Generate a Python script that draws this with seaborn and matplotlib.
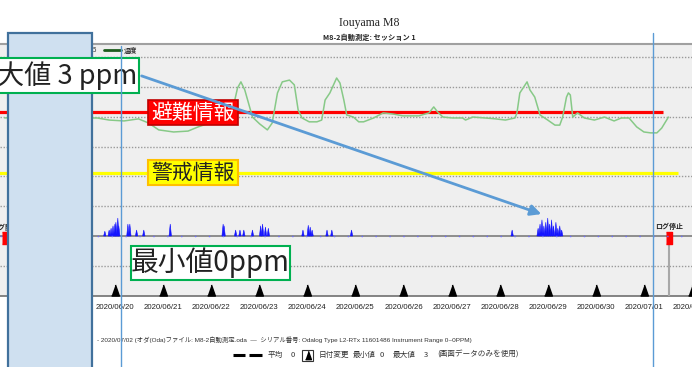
import matplotlib
matplotlib.use('Agg')
import matplotlib.pyplot as plt
import seaborn as sns
from matplotlib.patches import Rectangle, FancyArrowPatch

# ---- data ----
# days counted from 2020/06/20 00:00
date_labels = ['2020/06/20', '2020/06/21', '2020/06/22', '2020/06/23', '2020/06/24',
               '2020/06/25', '2020/06/26', '2020/06/27', '2020/06/28', '2020/06/29',
               '2020/06/30', '2020/07/01', '2020/07/02']
date_days = list(range(len(date_labels)))

# temperature trace (green), in chart grid units
temp_days = [-2.29, -1.57, -0.95, -0.49, -0.37, -0.12, 0.19, 0.49, 0.70, 0.91,
             1.22, 1.52, 1.73, 2.04, 2.35, 2.47, 2.55, 2.62, 2.70, 2.86,
             3.01, 3.17, 3.27, 3.38, 3.48, 3.63, 3.73, 3.81, 3.89, 4.04,
             4.20, 4.30, 4.37, 4.47, 4.61, 4.68, 4.76, 4.82, 4.96, 5.07,
             5.17, 5.38, 5.58, 5.79, 5.99, 6.32, 6.53, 6.63, 6.71, 6.82,
             7.02, 7.23, 7.29, 7.44, 7.70, 7.91, 8.12, 8.32, 8.36, 8.42,
             8.53, 8.57, 8.63, 8.73, 8.84, 9.00, 9.15, 9.25, 9.31, 9.39,
             9.43, 9.47, 9.52, 9.62, 9.76, 9.97, 10.18, 10.38, 10.53, 10.69,
             10.85, 11.00, 11.14, 11.27, 11.37, 11.51]
temp_vals = [3.96, 4.06, 3.89, 3.96, 3.96, 3.89, 3.86, 3.93, 3.79, 3.56,
             3.49, 3.52, 3.66, 3.83, 3.96, 4.40, 4.97, 5.17, 4.90, 3.99,
             3.76, 3.56, 3.79, 4.80, 5.17, 5.23, 5.07, 4.23, 3.96, 3.83,
             3.83, 3.89, 4.56, 4.80, 5.30, 5.13, 4.56, 4.06, 3.99, 3.83,
             3.83, 3.96, 4.13, 4.09, 4.03, 4.03, 4.13, 4.33, 4.16, 3.99,
             3.96, 3.96, 3.89, 3.99, 3.96, 3.93, 3.89, 3.96, 4.13, 4.80,
             5.07, 5.17, 4.90, 4.66, 4.06, 3.89, 3.72, 3.72, 3.99, 4.66,
             4.80, 4.73, 3.99, 4.13, 3.96, 3.89, 3.99, 3.86, 3.96, 3.96,
             3.66, 3.49, 3.46, 3.46, 3.62, 3.99]

# gas readings (blue spikes), ppm
gas_days = [-0.21, -0.12, -0.08, -0.04, 0.00, 0.02, 0.06, 0.08, 0.27, 0.31,
            0.45, 0.60, 1.15, 2.25, 2.27, 2.51, 2.60, 2.68, 2.86, 3.03,
            3.07, 3.13, 3.19, 3.91, 4.02, 4.06, 4.10, 4.41, 4.51, 4.92,
            8.26, 8.80, 8.84, 8.88, 8.92, 8.96, 9.00, 9.04, 9.08, 9.12,
            9.17, 9.21, 9.25, 9.29]
gas_ppm = [0.8, 1.0, 1.3, 1.7, 2.0, 2.3, 3.0, 1.7, 2.0, 2.0,
           1.0, 1.0, 2.0, 2.0, 1.7, 1.0, 1.0, 1.0, 1.0, 1.7,
           2.0, 1.5, 1.3, 1.0, 1.8, 1.5, 1.0, 1.0, 1.0, 1.0,
           1.0, 1.3, 2.0, 2.7, 1.7, 2.3, 3.0, 2.0, 2.7, 1.7,
           2.3, 1.3, 1.7, 1.0]

level_names = ['避難情報', '警戒情報']
level_vals = [4.16, 2.11]
level_ends = [11.39, 11.70]
log_start, log_stop = -2.29, 11.53
gas_avg, gas_min, gas_max = 0, 0, 3

# ---- figure ----
sns.set_theme(style='white')
plt.rcParams['font.family'] = ['Noto Sans CJK JP', 'DejaVu Sans']
W, H = 692, 367
fig = plt.figure(figsize=(W / 100, H / 100), dpi=100)

ax = fig.add_axes([0, (H - 296) / H, 1, (296 - 44) / H])
ax.set_facecolor('#efefef')
ax.set_xlim(-2.39, 11.86)
ax.set_ylim(-2.01, 6.44)
for g in [-1, 1, 2, 3, 4, 5, 6]:
    ax.axhline(g, color='#9a9a9a', lw=1, ls=(0, (1, 1.2)), zorder=1)
ax.axhline(0, color='#858585', lw=1.3, zorder=2)

# alert levels
lvl_colors = ['#ff0000', '#ffff00']
for v, e, c in zip(level_vals, level_ends, lvl_colors):
    ax.plot([-2.6, e], [v, v], color=c, lw=2.3, zorder=3, solid_capstyle='butt')

sns.lineplot(x=temp_days, y=temp_vals, ax=ax, color='#87c987', lw=1.1, zorder=4)

# gas on its own scale (0 ppm sits on the baseline)
gx = ax.twinx()
gx.set_ylim(-10, 32)
gx.axis('off')
for d, p in zip(gas_days, gas_ppm):
    gx.fill([d - 0.025, d, d + 0.025], [0, p, 0], color='#1414ff', lw=0.4, zorder=3)
gx.axhline(0, color='#6a6aff', lw=1, ls=(0, (1, 9)), zorder=3)

# date-change triangles
tri = [(-0.35, -0.5), (0.35, -0.5), (0, 0.5)]
ax.plot(date_days, [0.022] * len(date_days), transform=ax.get_xaxis_transform(),
        ls='none', marker=tri, ms=8, color='black', clip_on=False, zorder=5)
ax.set_xticks(date_days, labels=date_labels)
ax.tick_params(axis='x', length=0, pad=6, labelsize=5.6, labelcolor='#222222')
for t in ax.get_xticklabels():
    t.set_fontfamily(['Liberation Sans', 'DejaVu Sans'])
ax.tick_params(axis='y', left=False, labelleft=False)
ax.set_xlabel('')
ax.set_ylabel('')
for s in ['left', 'right']:
    ax.spines[s].set_visible(False)
ax.spines['top'].set_color('#a0a0a0')
ax.spines['top'].set_linewidth(1.5)
ax.spines['bottom'].set_color('#707070')
ax.spines['bottom'].set_linewidth(1.2)

# log start / stop markers
box = [(-0.27, -0.5), (0.27, -0.5), (0.27, 0.5), (-0.27, 0.5)]
ax.vlines(log_stop, -2.01, -0.27, color='#a8a8a8', lw=1.5, zorder=4)
ax.plot([log_start, log_stop], [-0.08, -0.08], ls='none', marker=box, ms=8,
        color='#ff0000', zorder=6)
ax.text(log_stop, 0.34, 'ログ停止', fontsize=5, ha='center', va='center',
        fontweight='bold', color='#222222')
ax.text(log_start, 0.3, 'ログ開始', fontsize=5, ha='center', va='center',
        fontweight='bold', color='#222222')

# ---- overlay in pixel coordinates for titles and callouts ----
ov = fig.add_axes([0, 0, 1, 1], zorder=5)
ov.set_xlim(0, W)
ov.set_ylim(H, 0)
ov.axis('off')

ov.text(369, 23, 'Iouyama M8', fontsize=8.5, ha='center', va='center',
        family=['Liberation Serif', 'DejaVu Serif'], color='#222222')
ov.text(369, 37.5, 'M8-2自動測定: セッション 1', fontsize=5.2, ha='center',
        va='center', fontweight='bold', color='#222222')

# legend
ov.text(95, 50, '5', fontsize=4.5, ha='center', va='center', color='#333333')
ov.plot([104, 121], [50, 50], color='#1d5c1d', lw=2)
ov.text(124, 50, '温度', fontsize=4.8, ha='left', va='center', fontweight='bold',
        color='#333333')

# shaded column
ov.add_patch(Rectangle((8, 33), 84, 345, fc='#cfe0f0', ec='#41719c', lw=1.6, zorder=2))

# callout boxes
ov.add_patch(Rectangle((-10, 58), 149, 35, fc='white', ec='#00b050', lw=1.5, zorder=3))
ov.text(137, 76, f'最大値 {gas_max} ppm', fontsize=19.5, ha='right', va='center',
        color='#222222', zorder=4)
ov.add_patch(Rectangle((148, 100), 90, 25, fc='#ff0000', ec='#c00000', lw=1.2, zorder=3))
ov.text(193, 112.5, level_names[0], fontsize=15, ha='center', va='center',
        color='white', zorder=4)
ov.add_patch(Rectangle((148, 160), 90, 25, fc='#ffff00', ec='#ffc000', lw=1.5, zorder=3))
ov.text(193, 172.5, level_names[1], fontsize=15, ha='center', va='center',
        color='#222222', zorder=4)
ov.add_patch(Rectangle((131, 246), 159, 34, fc='white', ec='#00b050', lw=1.5, zorder=3))
ov.text(210, 263, f'最小値{gas_min}ppm', fontsize=20, ha='center', va='center',
        color='#222222', zorder=4)

# marker lines and arrow
ov.plot([120.5, 120.5], [46, H], color='#5b9bd5', lw=1, zorder=5)
ov.plot([653, 653], [33, H], color='#5b9bd5', lw=1, zorder=5)
ov.add_patch(FancyArrowPatch((139, 75), (544, 215), arrowstyle='-|>',
                             mutation_scale=16, color='#5b9bd5', lw=2, zorder=6))

# footer
foot_font = ['Liberation Sans', 'Noto Sans CJK JP']
ov.text(97, 340, '- 2020/07/02 (オダ(Oda)ファイル: M8-2自動測定.oda  —  シリアル番号: '
        'Odalog Type L2-RTx 11601486 Instrument Range 0~0PPM)',
        fontsize=4.6, ha='left', va='center', family=foot_font, color='#333333')
ov.plot([233, 245], [355, 355], color='black', lw=2.2, solid_capstyle='butt')
ov.plot([249, 262], [355, 355], color='black', lw=2.2, solid_capstyle='butt')
ov.text(268, 355, '平均', fontsize=5.5, ha='left', va='center', color='#333333')
ov.text(291, 355, f'{gas_avg}', fontsize=5.5, ha='left', va='center', color='#333333')
ov.add_patch(Rectangle((302, 349.5), 11, 11, fc='white', ec='#333333', lw=0.8))
ov.plot([307.5], [355], marker=tri, ms=6, color='black', ls='none')
ov.text(319, 355, '日付変更', fontsize=5.5, ha='left', va='center', color='#333333')
ov.text(353, 355, '最小値', fontsize=5.5, ha='left', va='center', color='#333333')
ov.text(380, 355, f'{gas_min}', fontsize=5.5, ha='left', va='center', color='#333333')
ov.text(393, 355, '最大値', fontsize=5.5, ha='left', va='center', color='#333333')
ov.text(424, 355, f'{gas_max}', fontsize=5.5, ha='left', va='center', color='#333333')
ov.text(437, 355, '(画面データのみを使用)', fontsize=5.5, ha='left', va='center',
        color='#333333')

fig.savefig('out.png', dpi=100)
